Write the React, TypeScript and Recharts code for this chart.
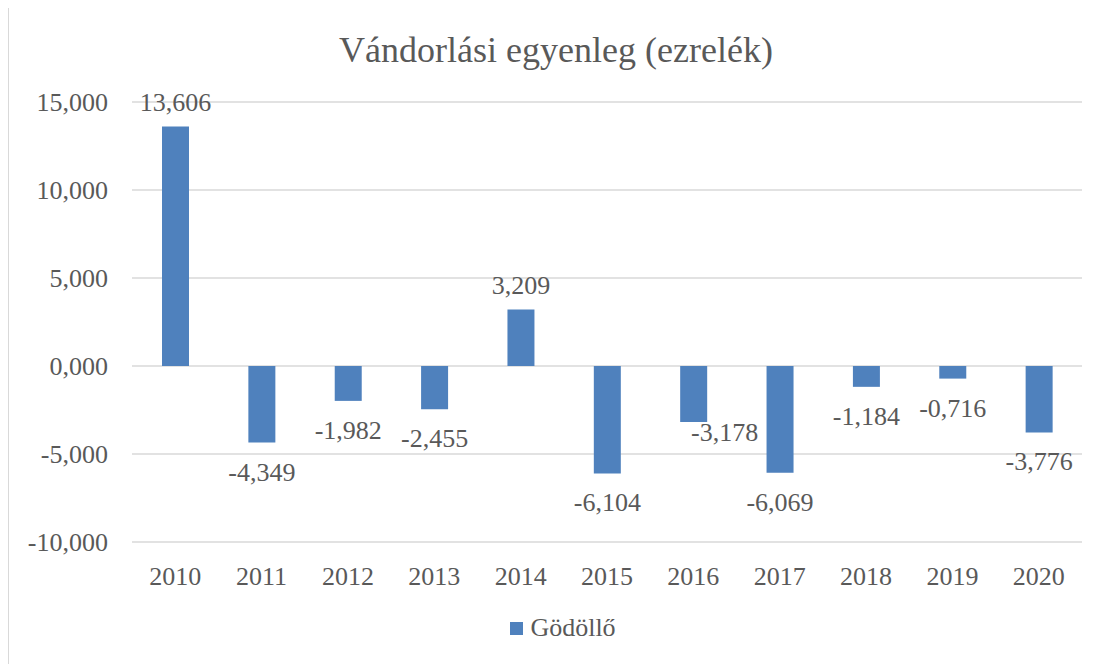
import React from 'react';
import { BarChart, Bar, XAxis, YAxis, CartesianGrid, LabelList, Legend } from 'recharts';

const years = ['2010', '2011', '2012', '2013', '2014', '2015', '2016', '2017', '2018', '2019', '2020'];
const values = [13.606, -4.349, -1.982, -2.455, 3.209, -6.104, -3.178, -6.069, -1.184, -0.716, -3.776];
const yTicks = [-10, -5, 0, 5, 10, 15];
const seriesName = 'Gödöllő';
const title = 'Vándorlási egyenleg (ezrelék)';
const nudgedLabelYear = '2016';

const data = years.map((y, i) => ({ year: y, value: values[i] }));

const FONT = '"Liberation Serif", "Times New Roman", serif';
const TEXT = '#595959';
const BLUE = '#4F81BD';

const fmt = (v: number) => v.toFixed(3).replace('.', ',');

const renderLabel = (props: any) => {
  const x = Number(props.x);
  const y = Number(props.y);
  const w = Number(props.width);
  const h = Number(props.height);
  const v = Number(props.value);
  const idx = props.index != null ? Number(props.index) : values.indexOf(v);
  const top = Math.min(y, y + h);
  const bottom = Math.max(y, y + h);
  let cx = x + w / 2;
  let ty = v >= 0 ? top - 16 : bottom + 38;
  if (years[idx] === nudgedLabelYear) {
    cx += 31;
    ty = bottom + 19.5;
  }
  return (
    <text x={cx} y={ty} textAnchor="middle" fill={TEXT} fontSize={26} fontFamily={FONT}>
      {fmt(v)}
    </text>
  );
};

const renderLegend = () => (
  <div style={{ display: 'flex', justifyContent: 'center', alignItems: 'center', height: 30, fontFamily: FONT, fontSize: 26, color: TEXT, paddingLeft: 8, boxSizing: 'border-box' }}>
    <span style={{ display: 'inline-block', width: 13, height: 13, background: BLUE, marginRight: 7 }} />
    <span>{seriesName}</span>
  </div>
);

export default function App() {
  return (
    <div style={{ position: 'relative', marginTop: -2, width: 1110, height: 670, border: '1px solid #d9d9d9', boxSizing: 'border-box' }}>
      <div style={{ position: 'absolute', left: 0, top: 0 }}>
        <BarChart width={1100} height={660} data={data} margin={{ top: 95, right: 27, bottom: 55, left: 0 }} barSize={27}>
          <text x={547} y={55} textAnchor="middle" fill={TEXT} fontSize={36} fontFamily={FONT}>
            {title}
          </text>
          <CartesianGrid vertical={false} stroke="#d9d9d9" strokeWidth={1.3} />
          <XAxis
            dataKey="year"
            axisLine={false}
            tickLine={false}
            tickSize={0}
            tickMargin={25}
            height={40}
            interval={0}
            tick={{ fill: TEXT, fontSize: 26, fontFamily: FONT }}
          />
          <YAxis
            domain={[-10, 15]}
            ticks={yTicks}
            axisLine={false}
            tickLine={false}
            tickSize={0}
            tickMargin={24}
            width={123}
            tickFormatter={fmt}
            tick={{ fill: TEXT, fontSize: 26, fontFamily: FONT }}
          />
          <Legend content={renderLegend} wrapperStyle={{ top: 606, left: 0, width: 1100, height: 30 }} />
          <Bar dataKey="value" name={seriesName} fill={BLUE} isAnimationActive={false}>
            <LabelList dataKey="value" content={renderLabel} />
          </Bar>
        </BarChart>
      </div>
    </div>
  );
}
